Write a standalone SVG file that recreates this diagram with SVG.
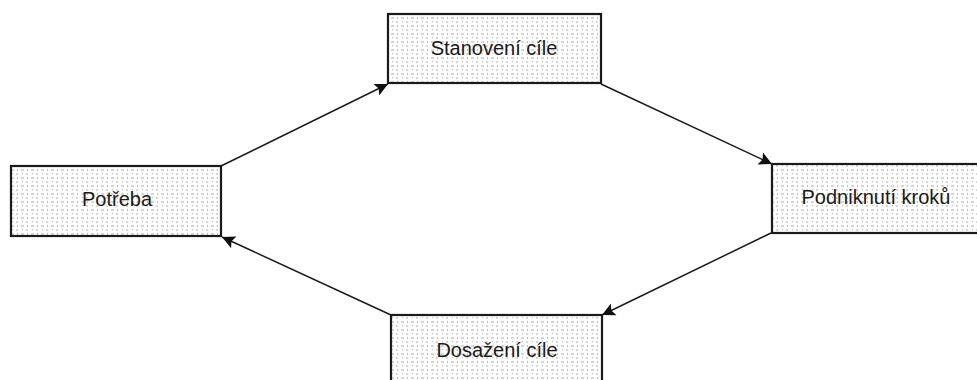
<svg xmlns="http://www.w3.org/2000/svg" width="977" height="380" viewBox="0 0 977 380">
<style>
.box{fill:url(#dots);stroke:#1a1a1a;stroke-width:2.2}
.lbl{font-family:"Liberation Sans",Arial,sans-serif;font-size:20px;fill:#1a1a1a;text-anchor:middle}
.edge{stroke:#1a1a1a;stroke-width:1.5;fill:none;marker-end:url(#ah)}
</style>
<defs>
<pattern id="dots" width="10" height="8" patternUnits="userSpaceOnUse">
<rect width="10" height="8" fill="#fff"/>
<path d="M1 2h3M6 6h2" stroke="#b0b0b0" stroke-width="1"/>
<rect x="7" y="1" width="1" height="2" fill="#bcbcbc"/>
<rect x="2" y="5" width="1" height="1" fill="#bcbcbc"/>
</pattern>
<marker id="ah" viewBox="0 0 10 10" refX="10" refY="5" markerWidth="17" markerHeight="13" markerUnits="userSpaceOnUse" orient="auto">
<path d="M0 0L10 5L0 10L2 5Z" fill="#111"/>
</marker>
</defs>
<g id="connectors">
<line class="edge" x1="221" y1="166" x2="388" y2="84"/>
<line class="edge" x1="601" y1="84" x2="772" y2="164"/>
<line class="edge" x1="771" y1="233" x2="602" y2="315"/>
<line class="edge" x1="391" y1="315" x2="222" y2="237"/>
</g>
<g id="n1"><rect class="box" x="388" y="14" width="213" height="69"/><text class="lbl" x="494" y="55">Stanovení cíle</text></g>
<g id="n2"><rect class="box" x="11" y="166" width="210" height="70"/><text class="lbl" x="117" y="206">Potřeba</text></g>
<g id="n3"><rect class="box" x="772" y="164" width="210" height="69"/><text class="lbl" x="876" y="204">Podniknutí kroků</text></g>
<g id="n4"><rect class="box" x="391" y="315" width="211" height="75"/><text class="lbl" x="497" y="357">Dosažení cíle</text></g>
</svg>
